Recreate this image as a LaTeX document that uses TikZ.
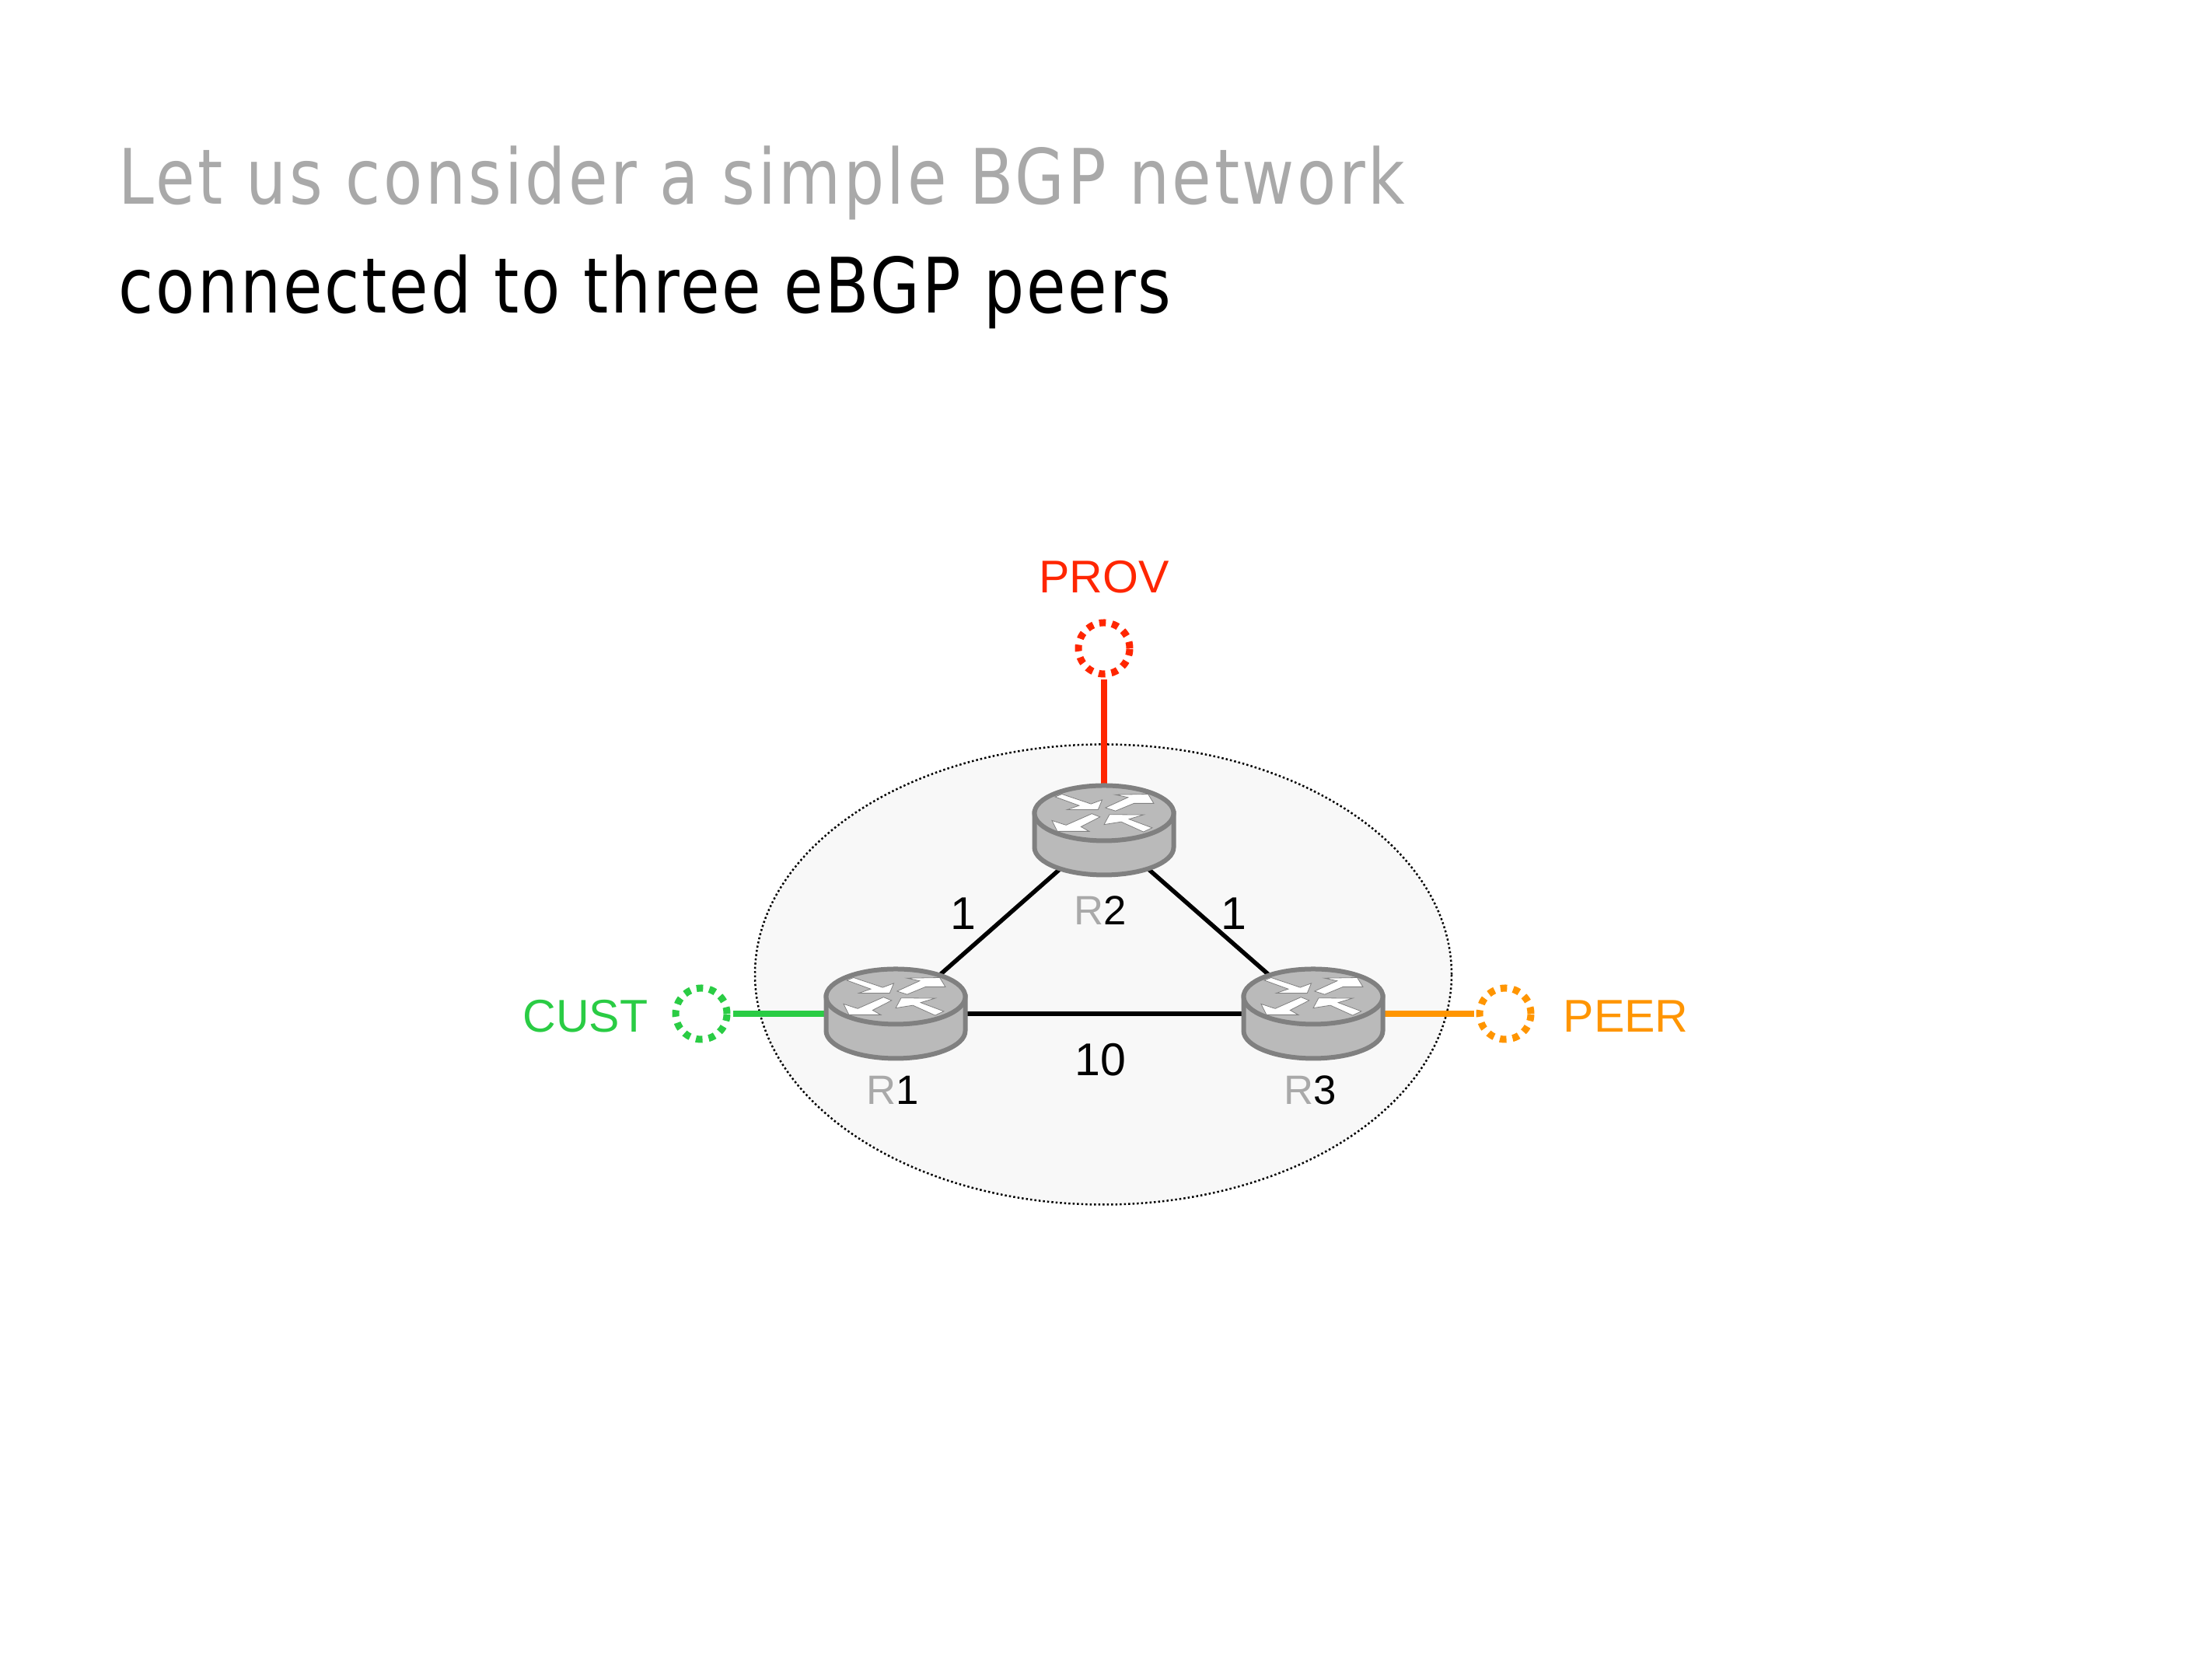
\documentclass[tikz,border=0pt]{standalone}
\usepackage{fontspec}
\setmainfont{Liberation Sans}
\newfontfamily\titlefont[FakeStretch=0.835,LetterSpace=3]{DejaVu Sans}
\newfontfamily\fadefont[FakeStretch=0.835,LetterSpace=3.6]{DejaVu Sans}
\usetikzlibrary{shapes.geometric}
\definecolor{cprov}{HTML}{FF2600}
\definecolor{ccust}{HTML}{2ACC44}
\definecolor{cpeer}{HTML}{FF9500}
\definecolor{cfade}{HTML}{A9A9A9}
\definecolor{crouter}{HTML}{BABABA}
\definecolor{cedge}{HTML}{808080}
\definecolor{cnet}{HTML}{F8F8F8}

\tikzset{
  router/.pic={
    \draw[cedge,fill=crouter,line width=.06cm] (-.895,.22) -- (-.895,-.22)
      arc[start angle=180,end angle=360,x radius=.895,y radius=.355] -- (.895,.22) -- cycle;
    \draw[cedge,fill=crouter,line width=.06cm] (0,.22) ellipse (.895 and .355);
    \begin{scope}[yshift=.22cm,x=.0035cm,y=-.0035cm,fill=white,draw=cedge,line width=.008cm]
      \filldraw (-180,-60) -- (-155,-70) -- (-48,-34) -- (-7,-49) -- (-22,-13) -- (-135,-13) -- (-92,-28) -- cycle;
      \filldraw (5,-20) -- (42,-8) -- (110,-36) -- (183,-36) -- (162,-70) -- (42,-68) -- (88,-58) -- cycle;
      \filldraw (-45,2) -- (-15,14) -- (-85,50) -- (-55,67) -- (-172,67) -- (-192,27) -- (-140,44) -- cycle;
      \filldraw (177,54) -- (145,69) -- (63,32) -- (0,42) -- (20,5) -- (145,6) -- (92,22) -- cycle;
    \end{scope}
  }
}

\begin{document}
\begin{tikzpicture}[node distance=1cm,
  router node/.style={circle,inner sep=0pt,minimum size=.6cm},
  peer node/.style={circle,draw,dash pattern=on .085cm off .08cm,line width=.09cm,inner sep=0pt,minimum size=.66cm},
  net node/.style={ellipse,draw,fill=cnet,dash pattern=on .025cm off .03cm,line width=.025cm,inner sep=0pt,outer sep=0pt,minimum width=8.96cm,minimum height=5.92cm},
  name node/.style={font=\fontsize{16.8}{20}\selectfont,inner sep=0pt},
  small node/.style={font=\fontsize{15}{18}\selectfont,inner sep=0pt},
  title node/.style={anchor=base west,inner sep=0pt,font=\fontsize{28}{34}\selectfont}]
  \useasboundingbox (0,0) rectangle (28.45,21.34);

  \node[title node,text=cfade] (line1) at (1.52,18.71) {\fadefont Let us consider a simple BGP network};
  \node[title node] (line2) at (1.52,17.31) {\titlefont connected to three eBGP peers};

  \node[net node] (net) at (14.19,8.805) {};

  \node[router node] (1) at (11.52,8.30) {};
  \node[router node] (3) [right of=1, node distance=5.37cm] {};
  \node[router node] (2) [above of=1, node distance=2.36cm, xshift=2.68cm] {};

  \node[peer node,draw=ccust] (cust) [left of=1, node distance=2.5cm] {};
  \node[peer node,draw=cpeer] (peer) [right of=3, node distance=2.47cm] {};
  \node[peer node,draw=cprov] (prov) [above of=2, node distance=2.34cm] {};

  \path[line width=.055cm]
    (1) edge (2)
    (2) edge (3)
    (1) edge (3);
  \path[line width=.085cm,shorten <=.03cm]
    (cust) edge[ccust] (1)
    (prov) edge[cprov] (2)
    (peer) edge[cpeer] (3);

  \pic at (1) {router};
  \pic at (2) {router};
  \pic at (3) {router};

  % router names
  \node[small node] (r1) [below of=1, node distance=.98cm, xshift=-.04cm] {\textcolor{cfade}{R}1};
  \node[small node] (r2) [below of=2, node distance=1.03cm, xshift=-.05cm] {\textcolor{cfade}{R}2};
  \node[small node] (r3) [below of=3, node distance=.98cm, xshift=-.04cm] {\textcolor{cfade}{R}3};

  % link weights
  \node[name node] (w12) at (12.39,9.59) {1};
  \node[name node] (w23) at (15.87,9.59) {1};
  \node[name node] (w13) at (14.15,7.71) {10};

  % neighbours
  \node[name node,text=ccust] (lcust) [left of=cust, node distance=1.49cm, yshift=-.03cm] {CUST};
  \node[name node,text=cpeer] (lpeer) [right of=peer, node distance=1.55cm, yshift=-.03cm] {PEER};
  \node[name node,text=cprov] (lprov) [above of=prov, node distance=.92cm] {PROV};
\end{tikzpicture}
\end{document}
